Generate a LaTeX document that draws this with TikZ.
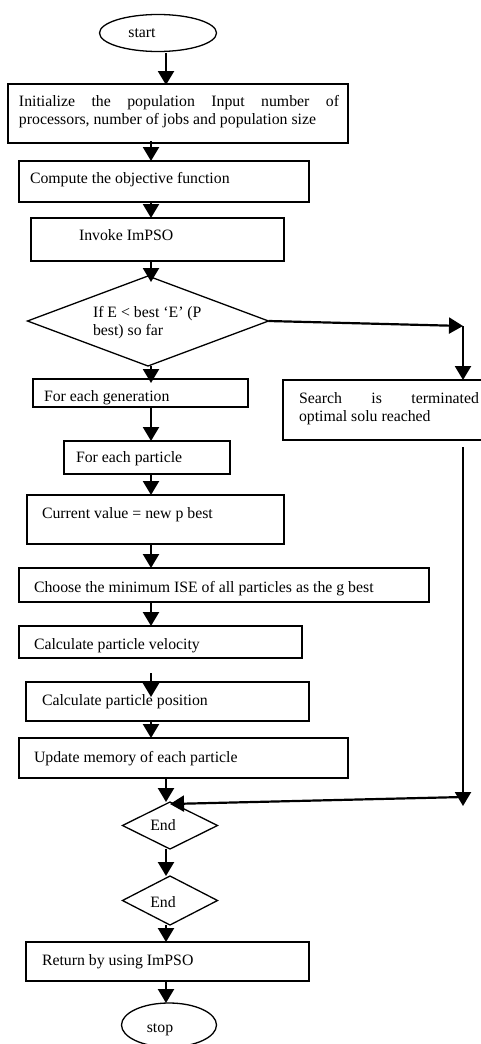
\documentclass[tikz,border=0pt]{standalone}
\usepackage{fontspec}
\setmainfont{Liberation Serif}
\usetikzlibrary{arrows.meta,shapes.geometric,calc}
\begin{document}
\begin{tikzpicture}[x=1pt,y=-1pt,
  box/.style={draw,line width=1.3pt,rectangle,inner sep=0pt,outer sep=0pt,anchor=north west},
  dia/.style={draw,line width=1.3pt,diamond,inner sep=0pt,outer sep=0pt},
  oval/.style={draw,line width=1.3pt,ellipse,inner sep=0pt,outer sep=0pt},
  txt/.style={inner sep=0pt,outer sep=0pt,anchor=base west,font=\fontsize{15.8}{18.6}\selectfont},
  ctxt/.style={inner sep=0pt,outer sep=0pt,anchor=base,font=\fontsize{15.8}{18.6}\selectfont},
  arr/.style={line width=2.2pt,-{Triangle[width=16pt,length=14pt]}},
  ]
\useasboundingbox (0,0) rectangle (481,1044);
\clip (0,0) rectangle (481,1044);
% axes for connectors
\coordinate (ax) at (151,0);
\coordinate (bx) at (166,0);
\coordinate (c1) at (463,326);
\coordinate (c2) at (463,806);
\coordinate (c3) at (463,797);
% shapes
\node[oval,minimum width=117pt,minimum height=37pt] (start) at (158,33) {};
\node[box,minimum width=340pt,minimum height=59pt] (init) at (8,84) {};
\node[box,minimum width=290pt,minimum height=41pt] (comp) at (19,161) {};
\node[box,minimum width=253pt,minimum height=43pt] (inv) at (31,218) {};
\node[dia,minimum width=241pt,minimum height=90pt] (dec) at (148,321) {};
\node[box,minimum width=215pt,minimum height=28pt] (gen) at (33,379) {};
\node[box,minimum width=210pt,minimum height=60pt] (srch) at (283,380) {};
\node[box,minimum width=166pt,minimum height=33pt] (part) at (64,441) {};
\node[box,minimum width=257pt,minimum height=49pt] (cur) at (27,495) {};
\node[box,minimum width=410pt,minimum height=34pt] (cho) at (19,568) {};
\node[box,minimum width=283pt,minimum height=32pt] (vel) at (19,626) {};
\node[box,minimum width=283pt,minimum height=39pt] (pos) at (26,682) {};
\node[box,minimum width=329pt,minimum height=40pt] (upd) at (19,738) {};
\node[dia,minimum width=95pt,minimum height=47pt] (end1) at (170,825.5) {};
\node[dia,minimum width=95pt,minimum height=49pt] (end2) at (170,900.5) {};
\node[box,minimum width=283pt,minimum height=39pt] (ret) at (26,942) {};
\node[oval,minimum width=95pt,minimum height=44pt] (stop) at (169,1025) {};
% texts
\node[ctxt] (tstart) at (142,37) {start};
\node[txt,text width=320pt,align=justify] (tinit) at (19,106) {Initialize the population Input number of\linebreak processors, number of jobs and population size};
\node[txt] (tcomp) at (30,183) {Compute the objective function};
\node[txt] (tinv) at (79,240) {Invoke ImPSO};
\node[txt] (tdec1) at (93,317) {If E < best ‘E’ (P};
\node[txt] (tdec2) at (93,335) {best) so far};
\node[txt,text width=180pt,align=justify] (tsrch) at (299,403) {Search is terminated\linebreak optimal solu reached};
\node[txt] (tgen) at (44,401) {For each generation};
\node[txt] (tpart) at (76,462) {For each particle};
\node[txt] (tcur) at (42,518) {Current value = new p best};
\node[txt] (tcho) at (34,592) {Choose the minimum ISE of all particles as the g best};
\node[txt] (tvel) at (34,649) {Calculate particle velocity};
\node[txt] (tpos) at (42,705) {Calculate particle position};
\node[txt] (tupd) at (34,762) {Update memory of each particle};
\node[ctxt] (te1) at (163,830) {End};
\node[ctxt] (te2) at (163,907) {End};
\node[txt] (tret) at (42,965) {Return by using ImPSO};
\node[ctxt] (tstop) at (160,1032) {stop};
% connectors
\draw[arr] ([yshift=-1]start.south -| bx) -- ([yshift=-1]init.north -| bx);
\draw[arr] ([yshift=2]init.south -| ax) -- (comp.north -| ax);
\draw[arr] (comp.south -| ax) -- (inv.north -| ax);
\draw[arr] (inv.south -| ax) -- ([yshift=-6]dec.north -| ax);
\draw[arr] (dec.south -| ax) -- ([yshift=-4]gen.north -| ax);
\draw[arr] (gen.south -| ax) -- (part.north -| ax);
\draw[arr] (part.south -| ax) -- (cur.north -| ax);
\draw[arr] (cur.south -| ax) -- (cho.north -| ax);
\draw[arr] (cho.south -| ax) -- (vel.north -| ax);
\draw[arr] ([yshift=-15]vel.south -| ax) -- ([yshift=-15]pos.north -| ax);
\draw[arr] (pos.south -| ax) -- (upd.north -| ax);
\draw[arr] (upd.south -| bx) -- (end1.north -| bx);
\draw[arr] (end1.south -| bx) -- (end2.north -| bx);
\draw[arr] (end2.south -| bx) -- (ret.north -| bx);
\draw[arr] (ret.south -| bx) -- (stop.north -| bx);
\draw[arr] (dec.east) -- (c1);
\draw[arr] (c1) -- (srch.north -| c1);
\draw[arr] ([yshift=-7]srch.south -| c1) -- (c2);
\draw[arr] (c3) -- ([yshift=-2]end1.north);
\end{tikzpicture}
\end{document}
